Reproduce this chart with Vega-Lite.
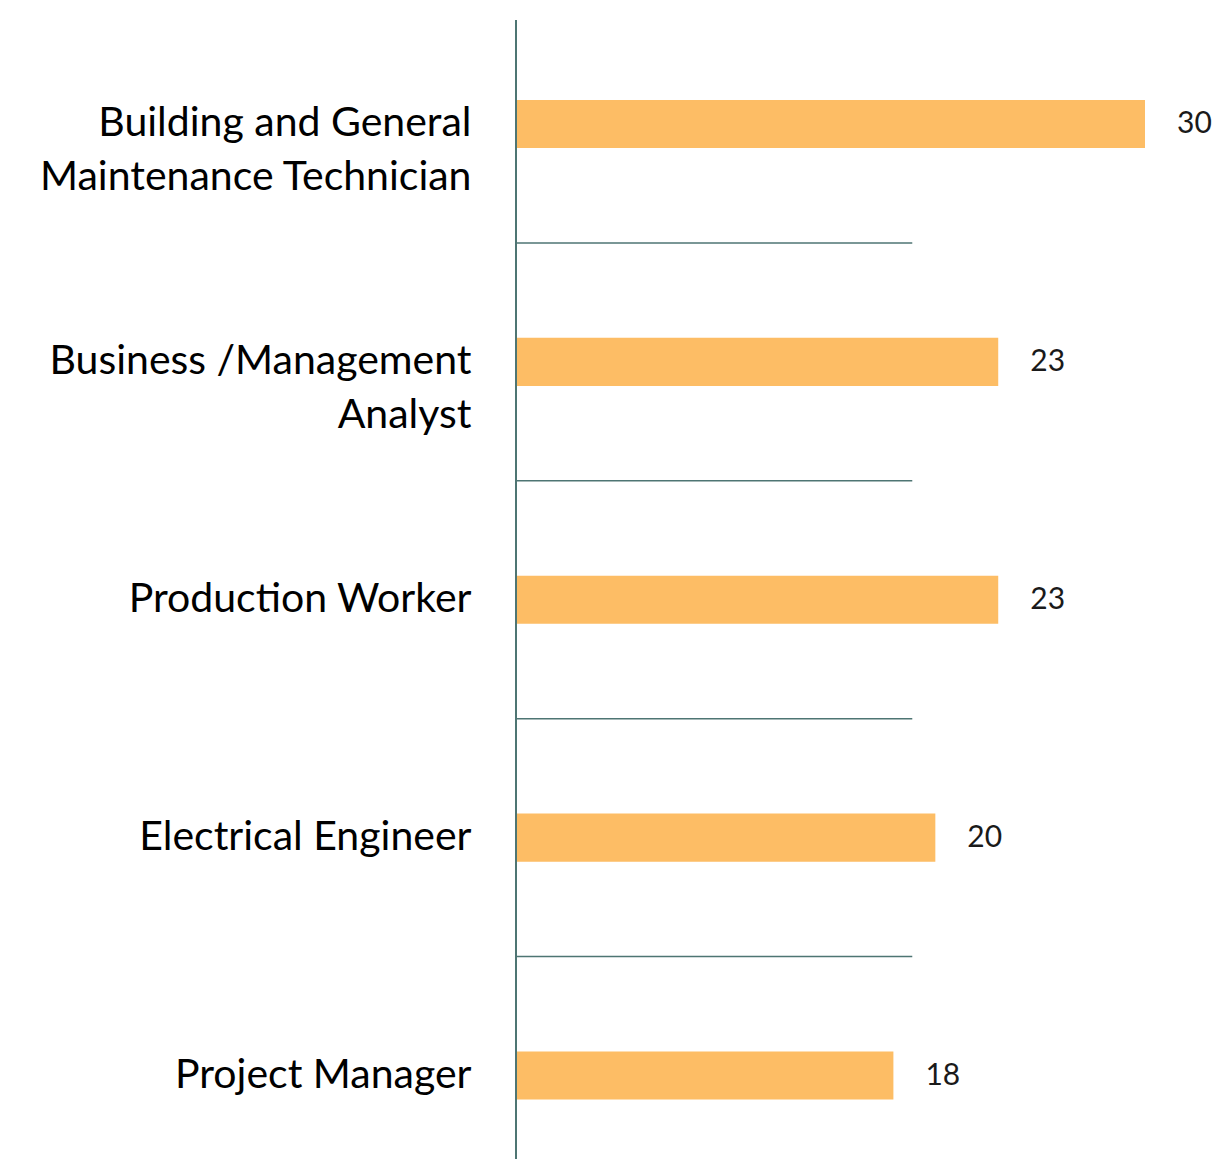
{
  "$schema": "https://vega.github.io/schema/vega-lite/v6.json",
  "width": 629,
  "height": 1139,
  "autosize": {"type": "none"},
  "padding": {"left": 516, "top": 20, "right": 75, "bottom": 0},
  "background": "white",
  "config": {"view": {"stroke": null}},
  "data": {
    "values": [
      {"role": "Building and General\nMaintenance Technician", "count": 30},
      {"role": "Business /Management\nAnalyst", "count": 23},
      {"role": "Production Worker", "count": 23},
      {"role": "Electrical Engineer", "count": 20},
      {"role": "Project Manager", "count": 18}
    ]
  },
  "layer": [
    {
      "mark": {"type": "bar", "color": "#FDBD65", "height": {"band": 0.202}},
      "encoding": {
        "y": {
          "field": "role",
          "type": "nominal",
          "sort": null,
          "scale": {"range": [-15, 1174.5], "paddingInner": 0, "paddingOuter": 0},
          "axis": {
            "title": null,
            "domain": false,
            "ticks": false,
            "labelPadding": 45,
            "labelFont": "Lato",
            "labelFontSize": 41,
            "labelColor": "#000000",
            "labelLineHeight": 54,
            "labelBaseline": "middle",
            "labelLimit": 0,
            "labelExpr": "split(datum.label, '\\n')"
          }
        },
        "x": {
          "field": "count",
          "type": "quantitative",
          "scale": {"domain": [0, 30], "nice": false},
          "axis": null
        }
      }
    },
    {
      "mark": {"type": "text", "align": "left", "baseline": "middle", "dx": 32, "font": "Lato", "fontSize": 30, "color": "#1a1a1a"},
      "encoding": {
        "y": {"field": "role", "type": "nominal", "sort": null},
        "x": {"field": "count", "type": "quantitative"},
        "text": {"field": "count"}
      }
    },
    {
      "transform": [{"filter": "datum.role != 'Project Manager'"}],
      "mark": {"type": "rule", "color": "#4E7573", "strokeWidth": 1.5},
      "encoding": {
        "y": {"field": "role", "type": "nominal", "sort": null, "bandPosition": 1},
        "x": {"datum": 0},
        "x2": {"datum": 18.9}
      }
    },
    {
      "mark": {"type": "rule", "color": "#4E7573", "strokeWidth": 2},
      "encoding": {
        "x": {"datum": 0}
      }
    }
  ]
}
